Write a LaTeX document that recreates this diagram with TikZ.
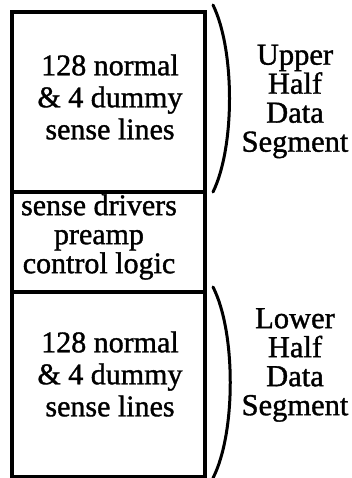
\documentclass[tikz,border=0pt]{standalone}
\usepackage{fontspec}
\setmainfont{Liberation Serif}[RawFeature={embolden=1.2}]
\usetikzlibrary{positioning,calc}

\begin{document}
\begin{tikzpicture}[x=1pt,y=-1pt,
  blockbox/.style={draw,line width=3.2pt,minimum width=193pt,inner sep=0pt,outer sep=0pt},
  blocktext/.style={align=center,inner sep=0pt,font=\fontsize{30}{32}\selectfont},
  logictext/.style={align=center,inner sep=0pt,font=\fontsize{30}{29}\selectfont},
  segtext/.style={align=center,inner sep=0pt,font=\fontsize{30.5}{29}\selectfont},
  brace/.style={line width=3pt,line cap=round}]
\useasboundingbox (0,0) rectangle (352,478);
% the three blocks of the array
\node[blockbox,minimum height=180pt] (upper) at (108.5,102) {};
\node[blockbox,minimum height=100pt] (middle) at (108.5,242) {};
\node[blockbox,minimum height=185pt] (lower) at (108.5,384.5) {};
\node[blocktext] (uppertxt) at (110,97) {128 normal\\\& 4 dummy\\sense lines};
\node[logictext] (middletxt) at (99,237) {sense drivers\\preamp\\control logic};
\node[blocktext] (lowertxt) at (110,374) {128 normal\\\& 4 dummy\\sense lines};
% brackets and segment labels
\draw[brace] ($(upper.north east)+(8,-7)$) .. controls +(22,45) and +(22,-45) .. ($(upper.south east)+(8,0)$);
\draw[brace] ($(lower.north east)+(8,-5)$) .. controls +(23,45) and +(23,-45) .. ($(lower.south east)+(8,1)$);
\node[segtext] (uppername) at (295,101.5) {Upper\\Half\\Data\\Segment};
\node[segtext] (lowername) at (295,365) {Lower\\Half\\Data\\Segment};
\end{tikzpicture}
\end{document}
